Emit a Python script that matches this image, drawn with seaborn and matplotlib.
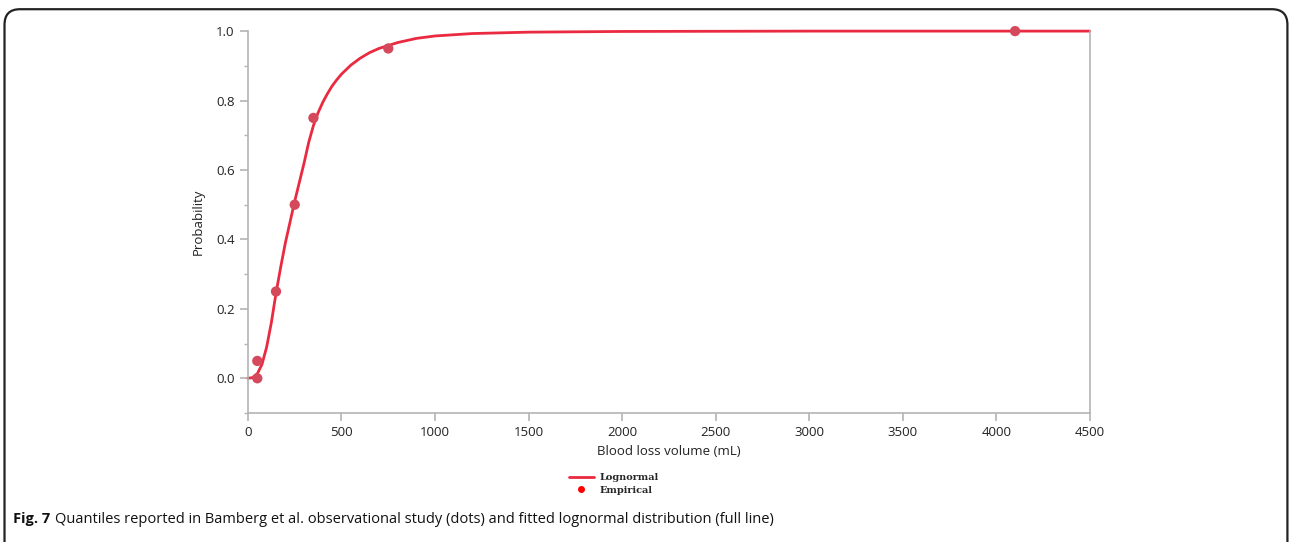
import numpy as np
import pandas as pd
import seaborn as sns
import matplotlib.pyplot as plt
from matplotlib.patches import FancyBboxPatch
from matplotlib.lines import Line2D

sns.set_theme(style="white")
plt.rcParams['font.family'] = ['Open Sans', 'DejaVu Sans']

# fitted lognormal curve
curve_x = [0, 25, 50, 75, 100, 125, 150, 175, 200, 225, 250, 275, 300, 325, 350, 375,
           400, 425, 450, 475, 500, 550, 600, 650, 700, 800, 900, 1000, 1200, 1500,
           2000, 3000, 4500]
curve_p = [0.0, 0.002, 0.013, 0.04, 0.09, 0.16, 0.245, 0.32, 0.39, 0.45, 0.51, 0.565,
           0.62, 0.68, 0.728, 0.765, 0.795, 0.82, 0.842, 0.86, 0.876, 0.902, 0.922,
           0.938, 0.95, 0.967, 0.979, 0.986, 0.993, 0.997, 0.999, 1.0, 1.0]

# empirical quantiles (dots)
emp_x = [50, 50, 150, 250, 350, 750, 4100]
emp_p = [0.0, 0.05, 0.25, 0.5, 0.75, 0.95, 1.0]

curve = pd.DataFrame({"volume": curve_x, "prob": curve_p})
emp = pd.DataFrame({"volume": emp_x, "prob": emp_p})

line_col = "#ea2a40"
dot_col = "#d44a5c"
spine_col = "#b4b4b4"

fig = plt.figure(figsize=(12.9, 5.42), dpi=100)
ax = fig.add_axes([0.1922, 0.238, 0.6527, 0.7046])

sns.lineplot(data=curve, x="volume", y="prob", ax=ax, color=line_col, lw=2, clip_on=False)
sns.scatterplot(data=emp, x="volume", y="prob", ax=ax, color=dot_col, s=55,
                edgecolor="none", zorder=3, clip_on=False)

ax.set_xlim(0, 4500)
ax.set_ylim(-0.1, 1.0)
ax.set_xticks(np.arange(0, 4501, 500))
ax.set_yticks(np.arange(0, 1.01, 0.2))
ax.set_yticks(np.arange(-0.1, 1.0, 0.2), minor=True)
ax.set_yticklabels([f"{v:.1f}" for v in np.arange(0, 1.01, 0.2)])
ax.set_xlabel("Blood loss volume (mL)", fontsize=9.5, color="#222222", labelpad=4)
ax.set_ylabel("Probability", fontsize=9.5, color="#222222", labelpad=8)

ax.spines["top"].set_visible(False)
for s in ["left", "bottom", "right"]:
    ax.spines[s].set_color(spine_col)
    ax.spines[s].set_linewidth(1.2)
ax.tick_params(axis="both", which="major", direction="out", length=6, width=1.2,
               color=spine_col, labelsize=9.5, labelcolor="#222222")
ax.tick_params(axis="y", which="minor", direction="out", length=3, width=1,
               color=spine_col, left=True)
ax.tick_params(axis="x", bottom=True)
ax.tick_params(axis="y", left=True)

handles = [Line2D([], [], color=line_col, lw=2),
           Line2D([], [], color="red", marker="o", ls="none", markersize=4)]
fig.legend(handles, ["Lognormal", "Empirical"], loc="center",
           bbox_to_anchor=(0.476, 0.107), frameon=False, handlelength=2.6,
           handletextpad=0.6, labelspacing=0.35,
           prop={"family": "DejaVu Serif", "weight": "bold", "size": 7})

# caption
t1 = fig.text(0.0101, 0.035, "Fig. 7", fontsize=10.5, fontweight="bold", color="#111111",
              va="baseline")
fig.canvas.draw()
bb = t1.get_window_extent()
fig.text((bb.x1 + 5) / fig.bbox.width, 0.035,
         "Quantiles reported in Bamberg et al. observational study (dots) and fitted lognormal distribution (full line)",
         fontsize=10.5, color="#111111", va="baseline")

# rounded frame around the figure
frame = FancyBboxPatch((0.0035, -0.2), 0.9945, 1.183, boxstyle="round,pad=0,rounding_size=0.012",
                       transform=fig.transFigure, fill=False, ec="#222222", lw=1.6,
                       mutation_aspect=12.9 / 5.42, clip_on=False)
fig.patches.append(frame)

fig.savefig("out.png", dpi=100)
